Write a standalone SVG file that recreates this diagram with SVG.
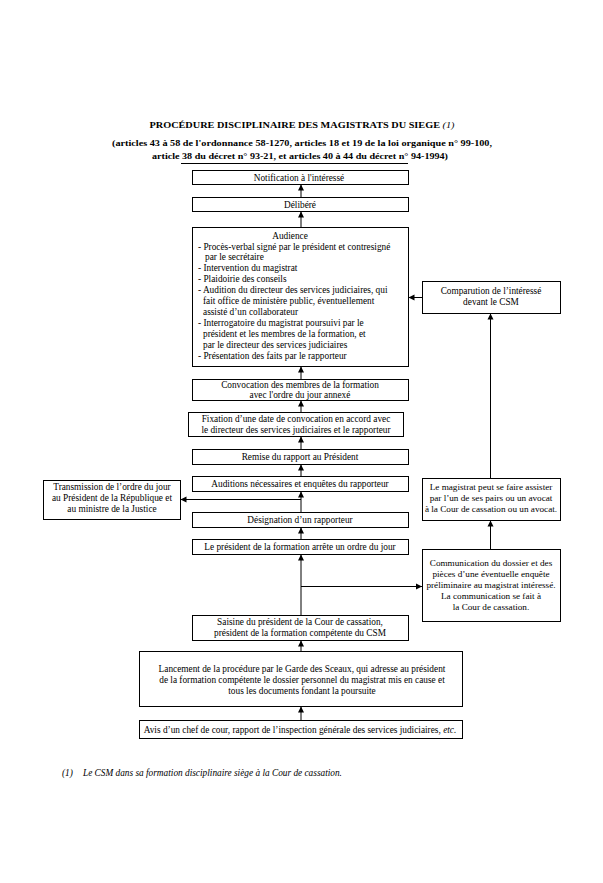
<svg xmlns="http://www.w3.org/2000/svg" width="603" height="883" viewBox="0 0 603 883">
<style>
text{font-family:"Liberation Serif","Times New Roman",serif;font-size:9.3px;fill:#000}
.c{text-anchor:middle}
.t{font-weight:bold;font-size:9px;text-anchor:middle}
.i{font-style:italic}
.r{font-size:9.2px}
rect{fill:#fff;stroke:#000;stroke-width:1}
.ln{stroke:#000;stroke-width:1;fill:none}
</style>
<defs>
<marker id="ah" markerUnits="userSpaceOnUse" markerWidth="7" markerHeight="7" refX="6" refY="3.5" orient="auto">
<path d="M0,0.5 L6,3.5 L0,6.5 z" fill="#000"/>
</marker>
</defs>
<rect x="0" y="0" width="603" height="883" style="stroke:none;fill:#fff"/>
<g id="title">
<text class="t" x="302" y="127.5" textLength="305" lengthAdjust="spacingAndGlyphs">PROCÉDURE DISCIPLINAIRE DES MAGISTRATS DU SIEGE <tspan style="font-style:italic;font-weight:normal">(1)</tspan></text>
<text class="t" x="302" y="145.5" textLength="380" lengthAdjust="spacingAndGlyphs">(articles 43 à 58 de l'ordonnance 58-1270, articles 18 et 19 de la loi organique n° 99-100,</text>
<text class="t" x="300" y="158.5" textLength="296" lengthAdjust="spacingAndGlyphs">article 38 du décret n° 93-21, et articles 40 à 44 du décret n° 94-1994)</text>
<line class="ln" x1="181" y1="163.5" x2="408" y2="163.5"/>
</g>
<g id="connectors">
<line class="ln" x1="301" y1="197" x2="301" y2="184.5" marker-end="url(#ah)"/>
<line class="ln" x1="301" y1="227" x2="301" y2="211.5" marker-end="url(#ah)"/>
<line class="ln" x1="301" y1="379" x2="301" y2="366.5" marker-end="url(#ah)"/>
<line class="ln" x1="301" y1="412" x2="301" y2="400.5" marker-end="url(#ah)"/>
<line class="ln" x1="301" y1="449" x2="301" y2="436.5" marker-end="url(#ah)"/>
<line class="ln" x1="301" y1="476" x2="301" y2="464.5" marker-end="url(#ah)"/>
<line class="ln" x1="301" y1="512" x2="301" y2="491.5" marker-end="url(#ah)"/>
<line class="ln" x1="301" y1="499.5" x2="180.5" y2="499.5" marker-end="url(#ah)"/>
<line class="ln" x1="301" y1="539" x2="301" y2="527.5" marker-end="url(#ah)"/>
<line class="ln" x1="301" y1="615" x2="301" y2="554.5" marker-end="url(#ah)"/>
<line class="ln" x1="301" y1="586.5" x2="422" y2="586.5" marker-end="url(#ah)"/>
<line class="ln" x1="301" y1="651" x2="301" y2="640.5" marker-end="url(#ah)"/>
<line class="ln" x1="301" y1="720" x2="301" y2="706.5" marker-end="url(#ah)"/>
<line class="ln" x1="490.5" y1="549" x2="490.5" y2="520.5" marker-end="url(#ah)"/>
<line class="ln" x1="490.5" y1="478" x2="490.5" y2="313.5" marker-end="url(#ah)"/>
<line class="ln" x1="422" y1="297.5" x2="408.5" y2="297.5" marker-end="url(#ah)"/>
</g>
<g id="n-notification">
<rect x="192.5" y="170.5" width="216" height="14"/>
<text class="c" x="299" y="180.5">Notification à l'intéressé</text>
</g>
<g id="n-delibere">
<rect x="192.5" y="197.5" width="216" height="14"/>
<text class="c" x="300" y="207.5">Délibéré</text>
</g>
<g id="n-audience">
<rect x="192.5" y="227.5" width="216" height="139"/>
<text class="c" x="290" y="239">Audience</text>
<text x="198" y="249.5">- Procès-verbal signé par le président et contresigné</text>
<text x="205" y="260">par le secrétaire</text>
<text x="198" y="271">- Intervention du magistrat</text>
<text x="198" y="282">- Plaidoirie des conseils</text>
<text x="198" y="293">- Audition du directeur des services judiciaires, qui</text>
<text x="203" y="304">fait office de ministère public, éventuellement</text>
<text x="203" y="315">assisté d’un collaborateur</text>
<text x="198" y="326">- Interrogatoire du magistrat poursuivi par le</text>
<text x="203" y="337">président et les membres de la formation, et</text>
<text x="203" y="348">par le directeur des services judiciaires</text>
<text x="198" y="359">- Présentation des faits par le rapporteur</text>
</g>
<g id="n-convocation">
<rect x="192.5" y="379.5" width="216" height="21"/>
<text class="c" x="300" y="387.5">Convocation des membres de la formation</text>
<text class="c" x="300" y="398">avec l'ordre du jour annexé</text>
</g>
<g id="n-fixation">
<rect x="188.5" y="412.5" width="215" height="24"/>
<text class="c" x="296" y="421.5">Fixation d’une date de convocation en accord avec</text>
<text class="c" x="296" y="433">le directeur des services judiciaires et le rapporteur</text>
</g>
<g id="n-remise">
<rect x="192.5" y="449.5" width="216" height="15"/>
<text class="c" x="300" y="460">Remise du rapport au Président</text>
</g>
<g id="n-auditions">
<rect x="192.5" y="476.5" width="216" height="15"/>
<text class="c" x="300" y="487">Auditions nécessaires et enquêtes du rapporteur</text>
</g>
<g id="n-designation">
<rect x="192.5" y="512.5" width="216" height="15"/>
<text class="c" x="300" y="523">Désignation d’un rapporteur</text>
</g>
<g id="n-president">
<rect x="192.5" y="539.5" width="216" height="15"/>
<text class="c" x="300" y="550">Le président de la formation arrête un ordre du jour</text>
</g>
<g id="n-saisine">
<rect x="192.5" y="615.5" width="216" height="25"/>
<text class="c" x="300" y="625">Saisine du président de la Cour de cassation,</text>
<text class="c" x="300" y="636">président de la formation compétente du CSM</text>
</g>
<g id="n-lancement">
<rect x="139.5" y="651.5" width="323" height="55"/>
<text class="c" x="302" y="672">Lancement de la procédure par le Garde des Sceaux, qui adresse au président</text>
<text class="c" x="302" y="683">de la formation compétente le dossier personnel du magistrat mis en cause et</text>
<text class="c" x="302" y="694">tous les documents fondant la poursuite</text>
</g>
<g id="n-avis">
<rect x="139.5" y="720.5" width="323" height="18"/>
<text class="c" x="300" y="733">Avis d’un chef de cour, rapport de l’inspection générale des services judiciaires, <tspan class="i">etc.</tspan></text>
</g>
<g id="n-transmission">
<rect x="43.5" y="480.5" width="137" height="39"/>
<text class="c" x="112" y="490">Transmission de l’ordre du jour</text>
<text class="c" x="112" y="501">au Président de la République et</text>
<text class="c" x="112" y="512">au ministre de la Justice</text>
</g>
<g id="n-comparution">
<rect x="422.5" y="281.5" width="138" height="32"/>
<text class="c" x="491" y="294">Comparution de l’intéressé</text>
<text class="c" x="491" y="305">devant le CSM</text>
</g>
<g id="n-magistrat">
<rect x="422.5" y="478.5" width="138" height="42"/>
<text class="c r" x="491" y="490">Le magistrat peut se faire assister</text>
<text class="c r" x="491" y="501">par l’un de ses pairs ou un avocat</text>
<text class="c r" x="491" y="512">à la Cour de cassation ou un avocat.</text>
</g>
<g id="n-communication">
<rect x="422.5" y="549.5" width="138" height="72"/>
<text class="c r" x="491" y="566">Communication du dossier et des</text>
<text class="c r" x="491" y="577">pièces d’une éventuelle enquête</text>
<text class="c r" x="491" y="588">préliminaire au magistrat intéressé.</text>
<text class="c r" x="491" y="599">La communication se fait à</text>
<text class="c r" x="491" y="610">la Cour de cassation.</text>
</g>
<g id="footnote">
<text class="i" x="62" y="776">(1)</text>
<text class="i" x="83" y="776">Le CSM dans sa formation disciplinaire siège à la Cour de cassation.</text>
</g>
</svg>
